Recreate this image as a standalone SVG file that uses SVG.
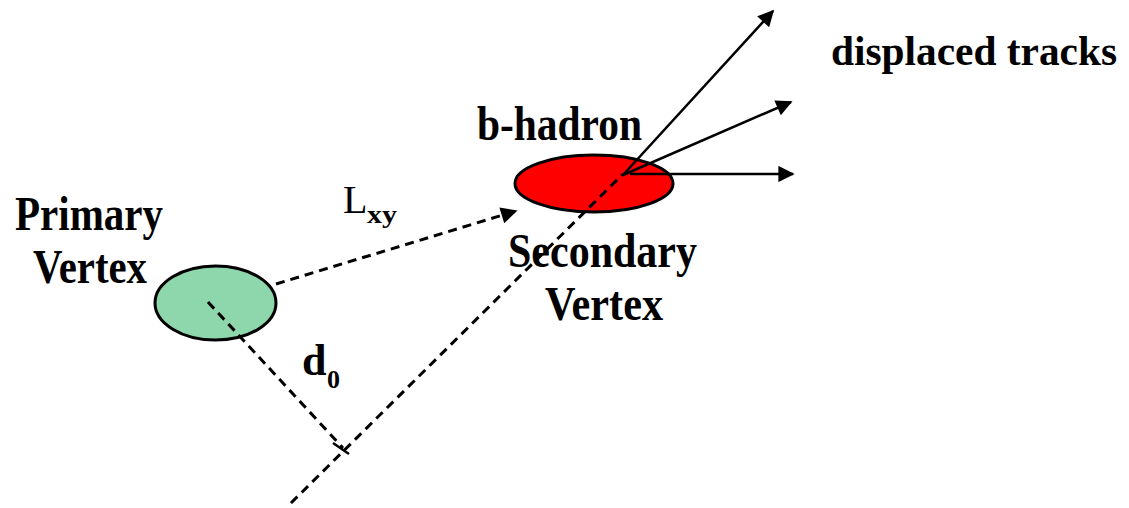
<svg xmlns="http://www.w3.org/2000/svg" width="1129" height="508" viewBox="0 0 1129 508">
<style>
.lbl{font-family:"Liberation Serif","Times New Roman",serif;font-weight:bold;fill:#000}
.reg{font-family:"Liberation Serif","Times New Roman",serif;font-weight:normal;fill:#000}
.dash{fill:none;stroke:#000;stroke-width:3;stroke-dasharray:9 6}
.trk{fill:none;stroke:#000;stroke-width:2.5}
.vtx{stroke:#000;stroke-width:3}
</style>
<defs>
<marker id="ah" viewBox="0 0 10 10" refX="9" refY="5" markerWidth="8" markerHeight="6.5" markerUnits="strokeWidth" orient="auto">
<path d="M0,0 L10,5 L0,10 Z" fill="#000"/>
</marker>
<marker id="ahd" viewBox="0 0 10 10" refX="9" refY="5" markerWidth="6.5" markerHeight="5.5" markerUnits="strokeWidth" orient="auto">
<path d="M0,0 L10,5 L0,10 Z" fill="#000"/>
</marker>
</defs>
<rect width="1129" height="508" fill="#fff"/>
<g id="primary-vertex">
<ellipse class="vtx" cx="215.5" cy="303" rx="60.5" ry="37" fill="#8ed6ab"/>
<text class="lbl" x="15" y="230" font-size="49" textLength="148" lengthAdjust="spacingAndGlyphs">Primary</text>
<text class="lbl" x="33" y="283" font-size="49" textLength="114" lengthAdjust="spacingAndGlyphs">Vertex</text>
</g>
<g id="secondary-vertex">
<ellipse class="vtx" cx="594" cy="183.5" rx="79" ry="28.5" fill="#ff0000"/>
<text class="lbl" x="477" y="140" font-size="48" textLength="165" lengthAdjust="spacingAndGlyphs">b-hadron</text>
<text class="lbl" x="508" y="267" font-size="48" textLength="189" lengthAdjust="spacingAndGlyphs">Secondary</text>
<text class="lbl" x="545" y="320" font-size="48" textLength="118" lengthAdjust="spacingAndGlyphs">Vertex</text>
</g>
<g id="connectors">
<line class="dash" x1="276" y1="284" x2="516" y2="211" marker-end="url(#ahd)"/>
<line class="dash" x1="291" y1="503" x2="623" y2="174"/>
<line class="dash" x1="208" y1="302" x2="343" y2="448"/>
<line class="trk" x1="333" y1="443" x2="349" y2="454"/>
<line class="trk" x1="623" y1="175" x2="773" y2="11" marker-end="url(#ah)"/>
<line class="trk" x1="623" y1="175" x2="791" y2="102" marker-end="url(#ah)"/>
<line class="trk" x1="630" y1="174" x2="793" y2="174" marker-end="url(#ah)"/>
</g>
<g id="labels">
<text class="reg" x="343" y="213" font-size="40">L</text>
<text class="lbl" x="367" y="223" font-size="26" textLength="30" lengthAdjust="spacingAndGlyphs">xy</text>
<text class="lbl" x="302" y="375" font-size="44">d</text>
<text class="lbl" x="327" y="388" font-size="26">0</text>
<text class="lbl" x="831" y="65" font-size="42" textLength="286" lengthAdjust="spacingAndGlyphs">displaced tracks</text>
</g>
</svg>
